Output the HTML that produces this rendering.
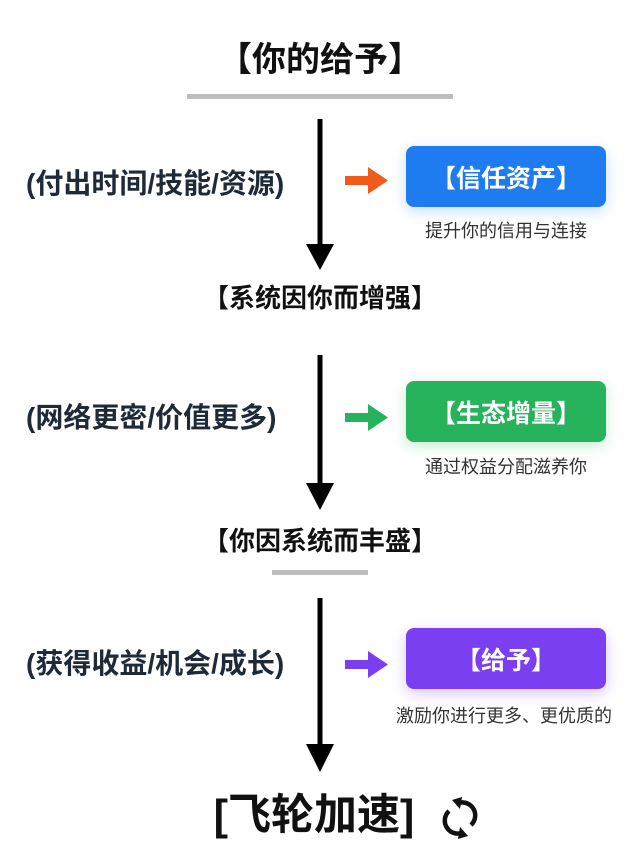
<!DOCTYPE html>
<html><head><meta charset="utf-8"><style>
body{margin:0;width:640px;height:860px;background:#fff;position:relative;overflow:hidden;font-family:"Liberation Sans","Noto Sans CJK SC",sans-serif;}
.t{position:absolute;white-space:nowrap;font-weight:bold;color:#111;transform:translate(-50%,-50%);line-height:1}
.l{position:absolute;white-space:nowrap;font-weight:bold;color:#1e2a38;font-size:28px;line-height:1;transform:translateY(-50%)}
.box{position:absolute;left:406px;width:200px;height:61px;border-radius:8px;color:#fff;font-weight:bold;font-size:25px;display:flex;align-items:center;justify-content:center}
.s{position:absolute;white-space:nowrap;color:#333;font-size:18px;line-height:1;transform:translate(-50%,-50%)}
.g{position:absolute;background:#bdbdbd;height:5px}
</style></head><body>
<div class="t" style="left:320px;top:60px;font-size:34px">【你的给予】</div>
<div class="g" style="left:187px;top:94px;width:266px"></div>
<div class="t" style="left:320px;top:298px;font-size:26px">【系统因你而增强】</div>
<div class="t" style="left:320px;top:541px;font-size:26px">【你因系统而丰盛】</div>
<div class="g" style="left:272px;top:570px;width:96px"></div>
<div class="t" style="left:314px;top:816px;font-size:43px">[飞轮加速]</div>

<div class="l" style="left:26px;top:184px">(付出时间/技能/资源)</div>
<div class="l" style="left:26px;top:418px">(网络更密/价值更多)</div>
<div class="l" style="left:26px;top:664px">(获得收益/机会/成长)</div>

<div class="box" style="top:146px;background:#1f7bf0;box-shadow:0 4px 14px rgba(31,123,240,.25)">【信任资产】</div>
<div class="box" style="top:381px;background:#27b25c;box-shadow:0 4px 14px rgba(39,178,92,.25)">【生态增量】</div>
<div class="box" style="top:628px;background:#7a3ff0;box-shadow:0 4px 14px rgba(122,63,240,.3)">【给予】</div>
<div class="s" style="left:506px;top:231px">提升你的信用与连接</div>
<div class="s" style="left:506px;top:467px">通过权益分配滋养你</div>
<div class="s" style="left:504px;top:716px">激励你进行更多、更优质的</div>

<svg width="640" height="860" style="position:absolute;left:0;top:0">
<g fill="#000">
<rect x="317.5" y="119" width="5" height="128"/><polygon points="306,244 334,244 320,270"/>
<rect x="317.5" y="355" width="5" height="130"/><polygon points="306,483 334,483 320,510"/>
<rect x="317.5" y="598" width="5" height="148"/><polygon points="306,744 334,744 320,772"/>
</g>
<g><rect x="345" y="176" width="26" height="9" fill="#f05a1a"/><polygon points="368,167 388,180.5 368,194" fill="#f05a1a"/></g>
<g><rect x="345" y="413" width="26" height="9" fill="#27b25c"/><polygon points="368,404 388,417.5 368,431" fill="#27b25c"/></g>
<g><rect x="345" y="660" width="26" height="9" fill="#7a3ff0"/><polygon points="368,651 388,664.5 368,678" fill="#7a3ff0"/></g>
<g fill="none" stroke="#111" stroke-width="4.5">
<path d="M449 811 A13 13 0 0 0 464 832"/>
<path d="M471 825 A13 13 0 0 0 456 804"/>
</g>
<polygon points="452,800 462,797 460,809" fill="#111"/>
<polygon points="468,836 458,839 460,827" fill="#111"/>
</svg>
</body></html>
